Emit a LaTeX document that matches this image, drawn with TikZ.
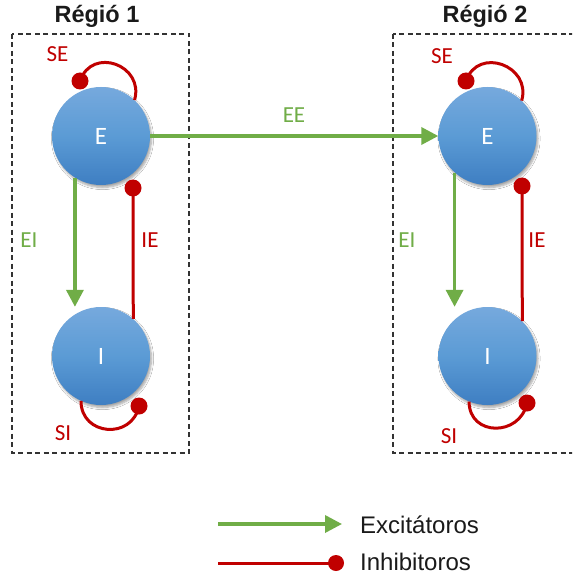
\documentclass[tikz,border=0pt]{standalone}
\usepackage{fontspec}
\setmainfont{Liberation Sans}
\newfontfamily\labelfont{Carlito}
\usetikzlibrary{arrows.meta,shadows.blur}
\definecolor{excgreen}{HTML}{70AD47}
\definecolor{inhred}{HTML}{C00000}
\definecolor{popblue}{HTML}{5B9BD5}
\definecolor{poptop}{HTML}{76A9DD}
\definecolor{popbot}{HTML}{3E7EC2}
\definecolor{boxgray}{HTML}{333333}
\definecolor{legtext}{HTML}{1A1A1A}
\tikzset{
  pop/.style={circle, minimum size=98pt, inner sep=0pt,
    top color=poptop, bottom color=popbot, middle color=popblue,
    text=white, font=\labelfont\fontsize{25}{25}\selectfont,
    blur shadow={shadow xshift=1.5pt, shadow yshift=-2.5pt,
      shadow blur steps=6, shadow opacity=35}},
  exc/.style={draw=excgreen, line width=3.5pt,
    -{Triangle[length=17pt,width=17pt]}},
  inh/.style={draw=inhred, line width=3pt},
  dot/.style={circle, fill=inhred, minimum size=17pt, inner sep=0pt},
  region/.style={draw=boxgray, line width=1.3pt, dash pattern=on 5pt off 3.5pt},
  title/.style={anchor=base, inner sep=0pt, text=legtext,
    font=\bfseries\fontsize{23.5}{23.5}\selectfont},
  lbl/.style={inner sep=0pt, font=\labelfont\fontsize{23}{23}\selectfont},
  exclbl/.style={lbl, text=excgreen},
  inhlbl/.style={lbl, text=inhred},
  legend/.style={anchor=base west, inner sep=0pt, text=legtext,
    font=\fontsize{24}{24}\selectfont}
}
\begin{document}
\begin{tikzpicture}[x=1pt, y=-1pt]
  \clip (0,0) rectangle (572,577);
  \fill[white] (0,0) rectangle (572,577);

  % region frames and titles
  \draw[region] (12,34) rectangle (189,453);
  \draw[region] (393,34) rectangle (600,453);
  \node[title] (t1) at (97,23) {Régió 1};
  \node[title] (t2) at (485,23) {Régió 2};

  % populations
  \node[pop] (E1) at (101,136) {E};
  \node[pop] (I1) at (101,356) {I};
  \node[pop] (E2) at (487.5,136) {E};
  \node[pop] (I2) at (487.5,356) {I};

  % inhibitory end points
  \coordinate (se1p) at (80,81);
  \coordinate (ie1p) at (133,188);
  \coordinate (si1p) at (139,406);
  \coordinate (se2p) at (466,81);
  \coordinate (ie2p) at (522,186);
  \coordinate (si2p) at (527,403);

  % region 1 connections
  \draw[exc] (E1.238) -- (E1.238 |- I1.north);
  \draw[inh] (I1.49) -- (ie1p);
  \draw[inh] (E1.47) .. controls +(10,-35) and +(12,-35) .. (se1p);
  \draw[inh] (I1.246) .. controls +(0,35) and +(-7,34) .. (si1p);
  \node[dot] (se1) at (se1p) {};
  \node[dot] (ie1) at (ie1p) {};
  \node[dot] (si1) at (si1p) {};

  % region 2 connections
  \draw[exc] (E2.228.5) -- (E2.228.5 |- I2.north);
  \draw[inh] (I2.45) -- (ie2p);
  \draw[inh] (E2.46) .. controls +(10,-35) and +(12,-35) .. (se2p);
  \draw[inh] (I2.248) .. controls +(0,35) and +(-7,34) .. (si2p);
  \node[dot] (se2) at (se2p) {};
  \node[dot] (ie2) at (ie2p) {};
  \node[dot] (si2) at (si2p) {};

  % inter-regional projection
  \draw[exc] (E1.east) -- (E2.west);

  % connection labels
  \node[exclbl] (lEE) at (294,115) {EE};
  \node[exclbl] (lEI1) at (29,240) {EI};
  \node[inhlbl] (lIE1) at (150,240) {IE};
  \node[inhlbl] (lSE1) at (57.5,54.5) {SE};
  \node[inhlbl] (lSI1) at (63,433) {SI};
  \node[exclbl] (lEI2) at (407,240) {EI};
  \node[inhlbl] (lIE2) at (537,240) {IE};
  \node[inhlbl] (lSE2) at (442,56) {SE};
  \node[inhlbl] (lSI2) at (449,436) {SI};

  % legend
  \coordinate (la0) at (218,524);
  \coordinate (la1) at (342,524);
  \coordinate (lb0) at (218,563);
  \coordinate (lb1) at (336,563);
  \draw[exc] (la0) -- (la1);
  \draw[inh] (lb0) -- (lb1);
  \node[dot, minimum size=16pt] (lbd) at (lb1) {};
  \node[legend] (lga) at (360,533) {Excitátoros};
  \node[legend] (lgb) at (360,570) {Inhibitoros};
\end{tikzpicture}
\end{document}
